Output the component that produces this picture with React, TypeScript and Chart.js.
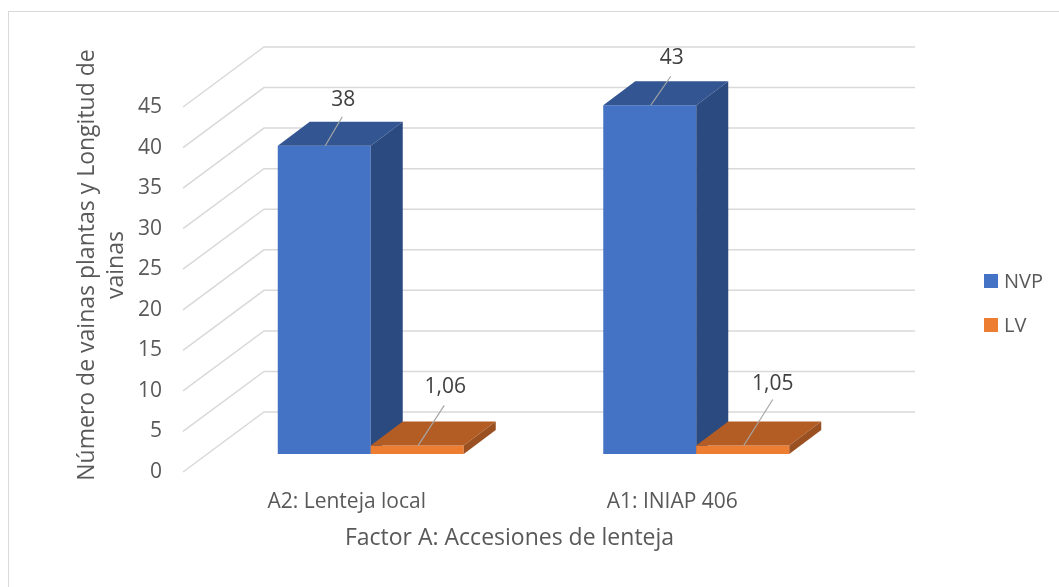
import React, { useEffect, useRef } from 'react';
import { Chart, registerables } from 'chart.js';

Chart.register(...registerables);

// Data
const categories = ['A2: Lenteja local', 'A1: INIAP 406'];
const seriesNames = ['NVP', 'LV'];
const nvpValues = [38, 43];
const lvValues = [1.06, 1.05];
const yMin = 0;
const yMax = 45;
const yStep = 5;
const xTitle = 'Factor A: Accesiones de lenteja';
const yTitleLines = ['Número de vainas plantas y Longitud de', 'vainas'];

// Styling
const FONT = "'Open Sans', 'Noto Sans', sans-serif";
const TEXT = '#595959';
const LABEL_TEXT = '#404040';
const GRID = '#d9d9d9';
const FRONT = ['#4472C4', '#ED7D31'];
const TOP = ['#335693', '#B35D24'];
const SIDE = ['#2B4A80', '#9A5020'];

// Depth of the 3D floor (screen offset from front plane to back wall)
const DEPTH_DX = 80;
const DEPTH_DY = -60;
const BAR_FRONT = 0.3; // bar front face position along the depth
const BAR_BACK = 0.7; // bar back face position along the depth

// Leader line end (lx, ly) and label centre (tx, ty), relative to the top-front centre of each bar
const LABEL_OFFSETS = [
  [
    { lx: 18, ly: -29, tx: 19, ty: -46 },
    { lx: 21, ly: -29, tx: 22, ty: -47 },
  ],
  [
    { lx: 27, ly: -40, tx: 28, ty: -58 },
    { lx: 30, ly: -46, tx: 30, ty: -61 },
  ],
];

const fmt = (v: number) => (Number.isInteger(v) ? String(v) : v.toFixed(2).replace('.', ','));

const bars3d = {
  id: 'bars3d',
  beforeDatasetsDraw(chart: any) {
    const { ctx, chartArea } = chart;
    const y = chart.scales.y;
    ctx.save();
    ctx.strokeStyle = GRID;
    ctx.lineWidth = 1.5;
    y.ticks.forEach((t: any) => {
      const py = y.getPixelForValue(t.value);
      ctx.beginPath();
      ctx.moveTo(chartArea.left - 1, py);
      ctx.lineTo(chartArea.left + DEPTH_DX, py + DEPTH_DY);
      ctx.lineTo(chartArea.right + DEPTH_DX, py + DEPTH_DY);
      ctx.stroke();
    });
    ctx.restore();
  },
  // bars are painted below, series by series, so that later boxes overlap earlier ones
  beforeDatasetDraw() {
    return false;
  },
  afterDatasetsDraw(chart: any) {
    const { ctx, chartArea } = chart;
    const fx = DEPTH_DX * BAR_FRONT;
    const fy = DEPTH_DY * BAR_FRONT;
    const ddx = DEPTH_DX * (BAR_BACK - BAR_FRONT);
    const ddy = DEPTH_DY * (BAR_BACK - BAR_FRONT);

    ctx.save();
    ctx.translate(fx, fy);
    chart.data.datasets.forEach((_ds: any, di: number) => {
      const meta = chart.getDatasetMeta(di);
      meta.data.forEach((el: any) => {
        el.draw(ctx, chartArea);
        const { x, y, base, width } = el.getProps(['x', 'y', 'base', 'width'], true);
        const l = x - width / 2;
        const r = x + width / 2;
        ctx.fillStyle = TOP[di];
        ctx.beginPath();
        ctx.moveTo(l, y);
        ctx.lineTo(l + ddx, y + ddy);
        ctx.lineTo(r + ddx, y + ddy);
        ctx.lineTo(r, y);
        ctx.closePath();
        ctx.fill();
        ctx.fillStyle = SIDE[di];
        ctx.beginPath();
        ctx.moveTo(r, y);
        ctx.lineTo(r + ddx, y + ddy);
        ctx.lineTo(r + ddx, base + ddy);
        ctx.lineTo(r, base);
        ctx.closePath();
        ctx.fill();
      });
    });
    ctx.restore();

    // value labels with leader lines
    ctx.save();
    ctx.font = `21px ${FONT}`;
    ctx.textAlign = 'center';
    ctx.textBaseline = 'middle';
    chart.data.datasets.forEach((ds: any, di: number) => {
      const meta = chart.getDatasetMeta(di);
      meta.data.forEach((el: any, i: number) => {
        const { x, y } = el.getProps(['x', 'y'], true);
        const sx = x + fx;
        const sy = y + fy;
        const o = LABEL_OFFSETS[di][i];
        ctx.strokeStyle = '#a6a6a6';
        ctx.lineWidth = 1.2;
        ctx.beginPath();
        ctx.moveTo(sx + 1, sy);
        ctx.lineTo(sx + o.lx, sy + o.ly);
        ctx.stroke();
        ctx.fillStyle = LABEL_TEXT;
        ctx.fillText(fmt(ds.data[i]), sx + o.tx, sy + o.ty);
      });
    });
    ctx.restore();
  },
  afterDraw(chart: any) {
    const { ctx } = chart;
    ctx.save();
    // chart border
    ctx.strokeStyle = GRID;
    ctx.lineWidth = 1;
    ctx.strokeRect(8.5, 11.5, 1200, 700);
    // vertical axis title
    ctx.fillStyle = TEXT;
    ctx.font = `23px ${FONT}`;
    ctx.textAlign = 'center';
    ctx.textBaseline = 'middle';
    ctx.save();
    ctx.translate(87, 265);
    ctx.rotate(-Math.PI / 2);
    yTitleLines.forEach((line, i) => ctx.fillText(line, 0, i * 29));
    ctx.restore();
    // legend
    ctx.font = `20px ${FONT}`;
    ctx.textAlign = 'left';
    seriesNames.forEach((name, i) => {
      const cy = 281 + i * 44;
      ctx.fillStyle = FRONT[i];
      ctx.fillRect(984, cy - 7, 14, 14);
      ctx.fillStyle = TEXT;
      ctx.fillText(name, 1004, cy + 1);
    });
    ctx.restore();
  },
};

export default function App() {
  const ref = useRef<HTMLCanvasElement>(null);
  useEffect(() => {
    const canvas = ref.current!;
    const chart = new Chart(canvas, {
      type: 'bar',
      data: {
        labels: categories,
        datasets: [
          { label: seriesNames[0], data: nvpValues, backgroundColor: FRONT[0], borderWidth: 0 },
          { label: seriesNames[1], data: lvValues, backgroundColor: FRONT[1], borderWidth: 0 },
        ],
      },
      options: {
        responsive: false,
        animation: false,
        devicePixelRatio: 1,
        layout: { padding: { left: 0, top: 107, right: 224, bottom: 0 } },
        datasets: { bar: { categoryPercentage: 0.5714, barPercentage: 1 } },
        plugins: { legend: { display: false }, tooltip: { enabled: false } },
        scales: {
          x: {
            grid: { display: false, drawTicks: false },
            border: { display: false },
            ticks: { color: TEXT, font: { family: FONT, size: 21 }, padding: 17 },
            title: { display: true, text: xTitle, color: TEXT, font: { family: FONT, size: 23 }, padding: { top: 0, bottom: 35 } },
            afterFit: (s: any) => { s.height = 115; },
          },
          y: {
            min: yMin,
            max: yMax,
            grid: { display: false, drawTicks: false },
            border: { display: false },
            ticks: { stepSize: yStep, color: TEXT, font: { family: FONT, size: 21 }, padding: 22 },
            afterFit: (s: any) => { s.width = 184; },
          },
        },
      },
      plugins: [bars3d],
    });
    return () => chart.destroy();
  }, []);
  return (
    <div style={{ position: 'fixed', left: 0, top: 0, width: 1059, height: 587, background: '#fff' }}>
      <canvas ref={ref} width={1059} height={587} style={{ display: 'block' }} />
    </div>
  );
}
